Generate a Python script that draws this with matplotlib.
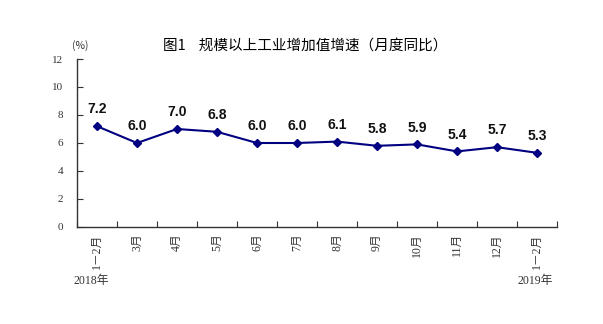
import matplotlib
matplotlib.use("Agg")
import matplotlib.pyplot as plt
import numpy as np

months = ["1－2月", "3月", "4月", "5月", "6月", "7月", "8月", "9月", "10月", "11月", "12月", "1－2月"]
growth = [7.2, 6.0, 7.0, 6.8, 6.0, 6.0, 6.1, 5.8, 5.9, 5.4, 5.7, 5.3]
y_ticks = [0, 2, 4, 6, 8, 10, 12]

plt.rcParams['font.family'] = ['Noto Sans CJK SC', 'DejaVu Sans']

fig = plt.figure(figsize=(6.03, 3.24), dpi=100)
ax = fig.add_axes([0.1277, 0.2994, 0.7960, 0.5185])

x = np.arange(len(growth))
ax.plot(x, growth, color="#000080", linewidth=1.5, marker="D", markersize=4.5)
for xi, v in zip(x, growth):
    ax.annotate(f"{v:.1f}", (xi, v), xytext=(0, 7), textcoords="offset points",
                ha="center", va="bottom", fontsize=10, fontweight="bold",
                family="Liberation Sans", color="#111111")

ax.set_xlim(-0.5, len(growth) - 0.5)
ax.set_ylim(0, 12)
ax.set_yticks(y_ticks)
ax.set_yticklabels([str(t) for t in y_ticks], family="Liberation Serif", fontsize=8, color="#333333")
ax.set_xticks(np.arange(-0.5, len(growth), 1))
ax.set_xticklabels([])
ax.tick_params(axis="both", direction="in", length=4, width=0.8, colors="#333333")
ax.tick_params(axis="y", pad=10)
for xi, m in zip(x, months):
    ax.text(xi, -0.45, m, rotation=90, ha="center", va="top", fontsize=8.5,
            family=["Liberation Serif", "Noto Sans CJK SC"], color="#333333")

for s in ["top", "right"]:
    ax.spines[s].set_visible(False)
for s in ["left", "bottom"]:
    ax.spines[s].set_color("#333333")
    ax.spines[s].set_linewidth(1.0)

fig.text(0.506, 0.86, "图1    规模以上工业增加值增速（月度同比）", ha="center", va="center", fontsize=10.5)
fig.text(0.133, 0.86, "(%)", ha="center", va="center", fontsize=7.5, color="#333333")
fig.text(0.152, 0.132, "2018年", ha="center", va="center", fontsize=8.5,
         family=["Liberation Serif", "Noto Sans CJK SC"], color="#333333")
fig.text(0.888, 0.132, "2019年", ha="center", va="center", fontsize=8.5,
         family=["Liberation Serif", "Noto Sans CJK SC"], color="#333333")

fig.savefig("out.png", dpi=100)
